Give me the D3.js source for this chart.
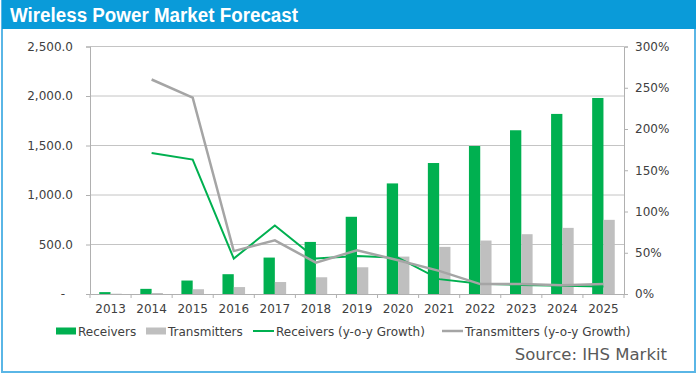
<!DOCTYPE html>
<html>
<head>
<meta charset="utf-8">
<script src="https://cdn.jsdelivr.net/npm/d3@7"></script>
<style>
  body { margin: 0; background: #fff; }
  text { font-family: "DejaVu Sans", Verdana, sans-serif; }
</style>
</head>
<body>
<script>
// wireless power market forecast -- bars (units) + y-o-y growth lines

var years = ["2013", "2014", "2015", "2016", "2017", "2018", "2019",
             "2020", "2021", "2022", "2023", "2024", "2025"];
var receivers = [19, 52, 136, 200, 368, 526, 780, 1117, 1323, 1495, 1654, 1819, 1980];
var transmitters = [3, 10, 48, 70, 121, 169, 270, 378, 476, 540, 604, 668, 749];
// growth starts in 2014
var receiversGrowth = [null, 1.71, 1.63, 0.43, 0.83, 0.43, 0.46, 0.44, 0.18, 0.125, 0.11, 0.10, 0.09];
var transmittersGrowth = [null, 2.60, 2.38, 0.52, 0.65, 0.38, 0.53, 0.41, 0.28, 0.12, 0.12, 0.105, 0.12];
var leftTicks = [0, 500, 1000, 1500, 2000, 2500];
var rightTicks = [0, 0.5, 1, 1.5, 2, 2.5, 3];

var WIDTH = 700;
var HEIGHT = 374;
var GREEN = '#00b050';
var GREY_BAR = '#bfbfbf';
var GREY_LINE = '#a5a5a5';
var TXT = '#404040';

var svg = d3.select('body')
  .append('svg')
  .attr('width', WIDTH)
  .attr('height', HEIGHT);

// frame + title bar
svg.append('rect')
  .attr('x', 2).attr('y', 0)
  .attr('width', 693).attr('height', 372)
  .attr('fill', '#fff')
  .attr('stroke', '#5ab6e6')
  .attr('stroke-width', 2);
svg.append('rect')
  .attr('x', 2).attr('y', 0)
  .attr('width', 694).attr('height', 29)
  .attr('fill', '#0a9bd9');
svg.append('text')
  .attr('x', 10).attr('y', 22)
  .attr('fill', '#fff')
  .style('font-family', '"Liberation Sans", Arial, sans-serif')
  .style('font-weight', 'bold')
  .style('font-size', '20px')
  .attr('textLength', 288)
  .attr('lengthAdjust', 'spacingAndGlyphs')
  .text('Wireless Power Market Forecast');

var plotL = 90, plotR = 624, plotT = 46.5, plotB = 294;

var x = d3.scaleBand().domain(years).range([plotL, plotR]).padding(0);
var barW = x.bandwidth() * 0.275;
var xs = d3.scaleBand().domain(['r', 't'])
  .range([x.bandwidth() / 2 - barW, x.bandwidth() / 2 + barW]);

var yL = d3.scaleLinear().domain([0, 2500]).range([plotB, plotT]);
var yR = d3.scaleLinear().domain([0, 3]).range([plotB, plotT]);

// gridlines
svg.append('g')
  .selectAll('line')
  .data(leftTicks.filter(function(d){return d > 0;}))
  .enter()
  .append('line')
  .attr('x1', plotL).attr('x2', plotR)
  .attr('y1', function(d){return yL(d);})
  .attr('y2', function(d){return yL(d);})
  .attr('stroke', '#c4c4c4')
  .attr('stroke-width', 1);

// bars
var groups = svg.append('g')
  .selectAll('g')
  .data(years)
  .enter()
  .append('g')
  .attr('transform', function(d){return 'translate(' + x(d) + ',0)';});

groups.append('rect')
  .attr('x', xs('r'))
  .attr('width', xs.bandwidth())
  .attr('y', function(d, i){return yL(receivers[i]);})
  .attr('height', function(d, i){return plotB - yL(receivers[i]);})
  .attr('fill', GREEN);

groups.append('rect')
  .attr('x', xs('t'))
  .attr('width', xs.bandwidth())
  .attr('y', function(d, i){return yL(transmitters[i]);})
  .attr('height', function(d, i){return plotB - yL(transmitters[i]);})
  .attr('fill', GREY_BAR);

// growth lines
function growthLine(values) {
  return d3.line()
    .defined(function(d){return d != null;})
    .x(function(d, i){return x(years[i]) + x.bandwidth() / 2;})
    .y(function(d){return yR(d);})(values);
}

svg.append('path')
  .attr('d', growthLine(receiversGrowth))
  .attr('fill', 'none')
  .attr('stroke', GREEN)
  .attr('stroke-width', 2);

svg.append('path')
  .attr('d', growthLine(transmittersGrowth))
  .attr('fill', 'none')
  .attr('stroke', GREY_LINE)
  .attr('stroke-width', 2.5);

// axes
var axisL = svg.append('g')
  .attr('transform', 'translate(' + plotL + ',0)')
  .call(d3.axisLeft(yL)
    .tickValues(leftTicks)
    .tickSize(4)
    .tickPadding(13)
    .tickFormat(function(d){return d === 0 ? '-' : d3.format(',.1f')(d);}));

var axisR = svg.append('g')
  .attr('transform', 'translate(' + plotR + ',0)')
  .call(d3.axisRight(yR)
    .tickValues(rightTicks)
    .tickSize(4)
    .tickPadding(7)
    .tickFormat(d3.format('.0%')));

var axisB = svg.append('g')
  .attr('transform', 'translate(0,' + plotB + ')')
  .call(d3.axisBottom(x).tickSize(0).tickPadding(10));

// category boundary ticks on x axis
svg.append('g')
  .selectAll('line')
  .data(years.concat(['end']))
  .enter()
  .append('line')
  .attr('x1', function(d, i){return plotL + i * x.step();})
  .attr('x2', function(d, i){return plotL + i * x.step();})
  .attr('y1', plotB).attr('y2', plotB + 4)
  .attr('stroke', '#b0b0b0');

[axisL, axisR, axisB].forEach(function(a){
  a.selectAll('path.domain').attr('stroke', '#b0b0b0');
  a.selectAll('.tick line').attr('stroke', '#b0b0b0');
  a.selectAll('text')
    .attr('fill', TXT)
    .style('font-size', '12px')
    .style('font-family', '"DejaVu Sans", Verdana, sans-serif');
});
axisL.selectAll('.tick text')
  .filter(function(d){return d === 0;})
  .attr('dx', -8);

// legend
var legend = [
  {name: 'Receivers', color: GREEN, type: 'bar', x: 56},
  {name: 'Transmitters', color: GREY_BAR, type: 'bar', x: 146},
  {name: 'Receivers (y-o-y Growth)', color: GREEN, type: 'line', x: 253},
  {name: 'Transmitters (y-o-y Growth)', color: GREY_LINE, type: 'line', x: 442}
];

var lg = svg.append('g')
  .selectAll('g')
  .data(legend)
  .enter()
  .append('g')
  .attr('transform', function(d){return 'translate(' + d.x + ',331)';});

lg.filter(function(d){return d.type === 'bar';})
  .append('rect')
  .attr('x', 0).attr('y', -3.5)
  .attr('width', 20).attr('height', 7)
  .attr('fill', function(d){return d.color;});

lg.filter(function(d){return d.type === 'line';})
  .append('line')
  .attr('x1', 0).attr('x2', 21)
  .attr('y1', 0).attr('y2', 0)
  .attr('stroke', function(d){return d.color;})
  .attr('stroke-width', function(d){return d.color === GREEN ? 2 : 2.5;});

lg.append('text')
  .attr('x', function(d){return d.type === 'bar' ? 22 : 23;})
  .attr('y', 4.5)
  .attr('fill', TXT)
  .style('font-size', '12px')
  .text(function(d){return d.name;});

// source
svg.append('text')
  .attr('x', 667).attr('y', 360)
  .attr('text-anchor', 'end')
  .attr('fill', '#595959')
  .style('font-size', '16.5px')
  .text('Source: IHS Markit');
</script>
</body>
</html>
